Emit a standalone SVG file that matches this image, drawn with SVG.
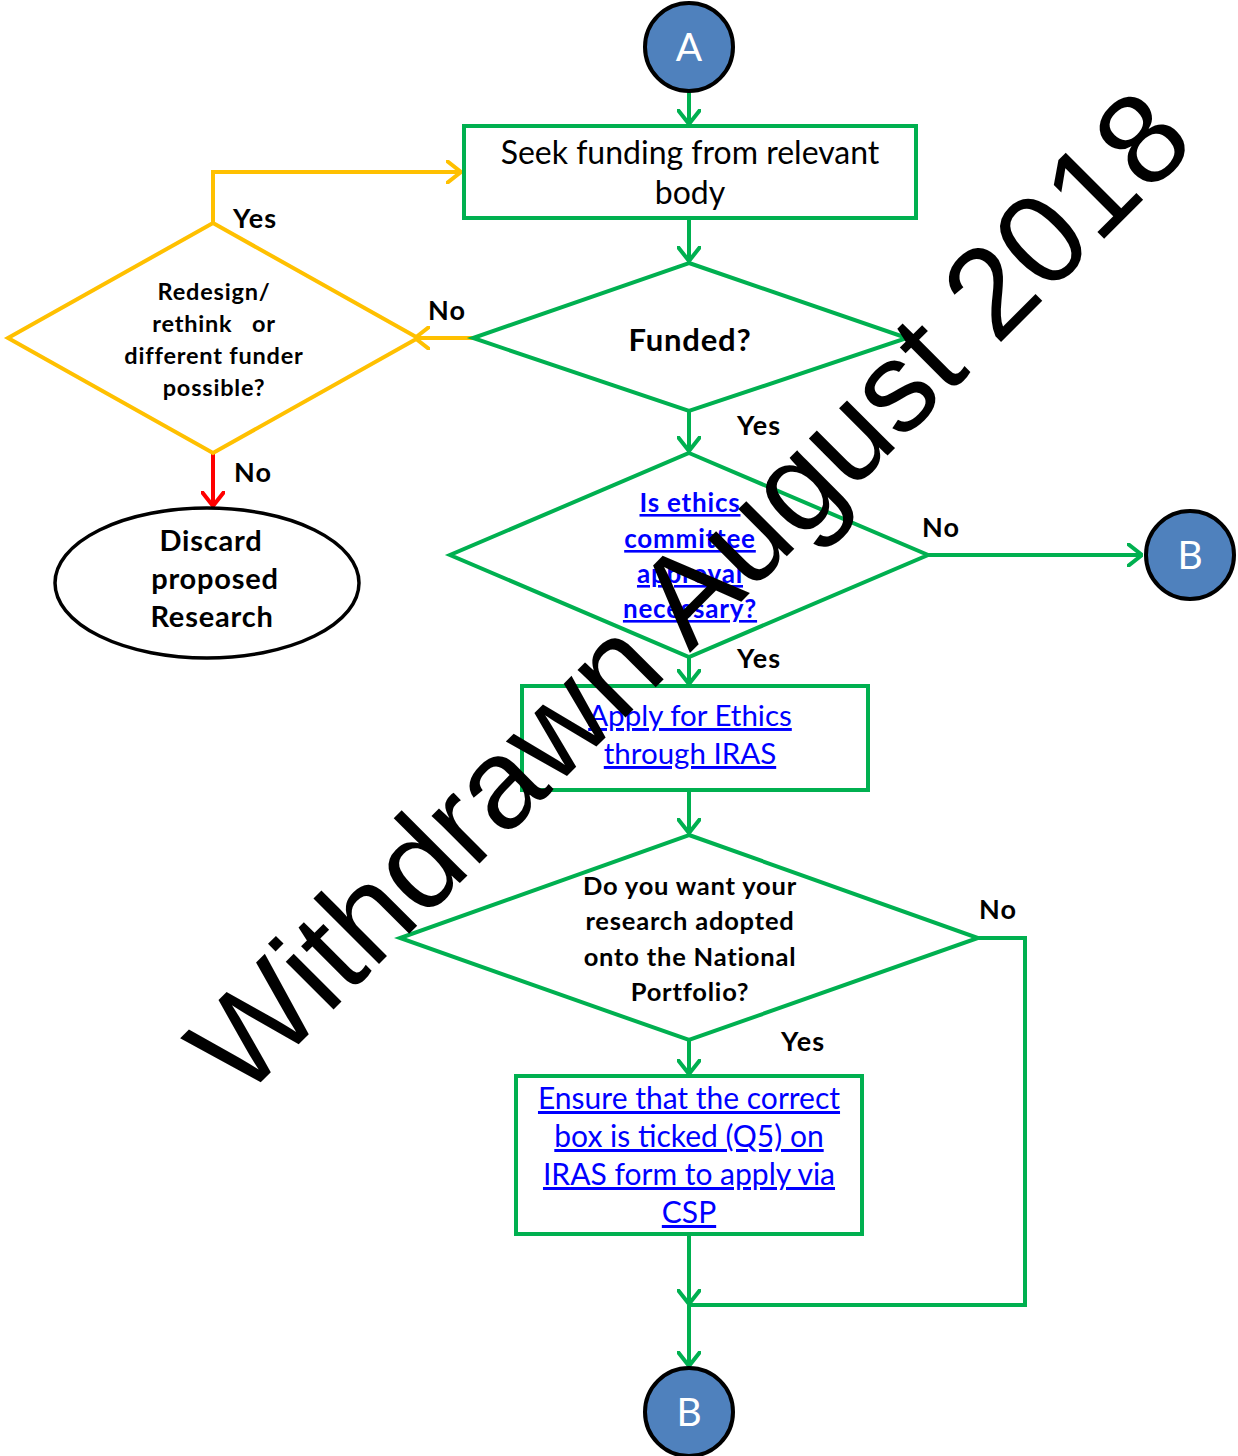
<svg xmlns="http://www.w3.org/2000/svg" width="1238" height="1456" viewBox="0 0 1238 1456">
<style>
.g{fill:none;stroke:#00B050;stroke-width:4}
.y{fill:none;stroke:#FFC000;stroke-width:4}
.r{fill:none;stroke:#FF0000;stroke-width:4}
.c{fill:#4F81BD;stroke:#000;stroke-width:4}
.ct{font-family:Lato,"Open Sans",sans-serif;font-size:39px;fill:#fff;text-anchor:middle}
.t{font-family:Lato,"Open Sans",sans-serif;fill:#000;text-anchor:middle}
.b{font-weight:bold;letter-spacing:0.8px}
.lk{fill:#0000FF;text-decoration:underline}
.lbl{font-family:Lato,"Open Sans",sans-serif;font-weight:bold;font-size:27px;letter-spacing:1.2px;fill:#000}
.wm{font-family:"Liberation Sans",Arial,sans-serif;font-size:128px;fill:#000}
</style>
<defs>
<marker id="ag" viewBox="0 0 16 24" markerWidth="16" markerHeight="24" refX="15" refY="12" orient="auto" markerUnits="userSpaceOnUse"><path d="M1,1 L15,12 L1,23" fill="none" stroke="#00B050" stroke-width="4" stroke-linecap="round"/></marker>
<marker id="ay" viewBox="0 0 16 24" markerWidth="16" markerHeight="24" refX="15" refY="12" orient="auto" markerUnits="userSpaceOnUse"><path d="M1,1 L15,12 L1,23" fill="none" stroke="#FFC000" stroke-width="4" stroke-linecap="round"/></marker>
<marker id="ar" viewBox="0 0 16 24" markerWidth="16" markerHeight="24" refX="15" refY="12" orient="auto" markerUnits="userSpaceOnUse"><path d="M1,1 L15,12 L1,23" fill="none" stroke="#FF0000" stroke-width="4" stroke-linecap="round"/></marker>
</defs>
<rect width="1238" height="1456" fill="#fff"/>

<g id="connectors">
<line class="g" x1="689" y1="91" x2="689" y2="124" marker-end="url(#ag)"/>
<line class="g" x1="689" y1="218" x2="689" y2="261" marker-end="url(#ag)"/>
<line class="y" x1="473" y1="338" x2="415" y2="338" marker-end="url(#ay)"/>
<polyline class="y" points="213,223 213,172 461,172" marker-end="url(#ay)"/>
<line class="r" x1="213" y1="453" x2="213" y2="506" marker-end="url(#ar)"/>
<line class="g" x1="689" y1="411" x2="689" y2="451" marker-end="url(#ag)"/>
<line class="g" x1="928" y1="555" x2="1142" y2="555" marker-end="url(#ag)"/>
<line class="g" x1="689" y1="657" x2="689" y2="684" marker-end="url(#ag)"/>
<line class="g" x1="689" y1="790" x2="689" y2="833" marker-end="url(#ag)"/>
<line class="g" x1="689" y1="1040" x2="689" y2="1074" marker-end="url(#ag)"/>
<polyline class="g" points="978,938 1025,938 1025,1305 689,1305"/>
<line class="g" x1="689" y1="1234" x2="689" y2="1304" marker-end="url(#ag)"/>
<line class="g" x1="689" y1="1305" x2="689" y2="1366" marker-end="url(#ag)"/>
<text class="lbl" x="233" y="228">Yes</text>
<text class="lbl" x="428" y="320">No</text>
<text class="lbl" x="234" y="482">No</text>
<text class="lbl" x="737" y="435">Yes</text>
<text class="lbl" x="922" y="537">No</text>
<text class="lbl" x="737" y="668">Yes</text>
<text class="lbl" x="979" y="919">No</text>
<text class="lbl" x="781" y="1051">Yes</text>
</g>

<g id="nodeA">
<circle class="c" cx="689" cy="47" r="44"/>
<text class="ct" x="689" y="61">A</text>
</g>

<g id="seekFunding">
<rect class="g" x="464" y="126" width="452" height="92"/>
<text class="t" x="690" y="164" font-size="32">Seek funding from relevant</text>
<text class="t" x="690" y="204" font-size="32">body</text>
</g>

<g id="funded">
<polygon class="g" points="689,263 907,338 689,411 473,338"/>
<text class="t b" x="690" y="351" font-size="31">Funded?</text>
</g>

<g id="redesign">
<polygon class="y" points="213,223 418,338 213,453 8,338"/>
<text class="t b" font-size="23.5"><tspan x="214" y="300">Redesign/</tspan><tspan x="214" y="332">rethink&#160;&#160; or</tspan><tspan x="214" y="364">different funder</tspan><tspan x="214" y="396">possible?</tspan></text>
</g>

<g id="discard">
<ellipse cx="207" cy="583" rx="152" ry="75" fill="#fff" stroke="#000" stroke-width="3.5"/>
<text class="t b" font-size="29"><tspan x="211" y="551">Discard</tspan><tspan x="215" y="589">proposed</tspan><tspan x="212" y="627">Research</tspan></text>
</g>

<g id="ethicsQ">
<polygon class="g" points="689,453 928,555 689,657 450,555"/>
<text class="t b lk" font-size="26"><tspan x="690" y="512">Is ethics</tspan><tspan x="690" y="548">committee</tspan><tspan x="690" y="583">approval</tspan><tspan x="690" y="618">necessary?</tspan></text>
</g>

<g id="nodeB1">
<circle class="c" cx="1190" cy="555" r="44"/>
<text class="ct" x="1190" y="569">B</text>
</g>

<g id="applyEthics">
<rect class="g" x="522" y="686" width="346" height="104"/>
<text class="t lk" font-size="29.5"><tspan x="690" y="726">Apply for Ethics</tspan><tspan x="690" y="764">through IRAS</tspan></text>
</g>

<g id="portfolioQ">
<polygon class="g" points="689,835 978,938 689,1040 400,938"/>
<text class="t b" font-size="25.5"><tspan x="690" y="895">Do you want your</tspan><tspan x="690" y="930">research adopted</tspan><tspan x="690" y="966">onto the National</tspan><tspan x="690" y="1001">Portfolio?</tspan></text>
</g>

<g id="ensureBox">
<rect class="g" x="516" y="1076" width="346" height="158"/>
<text class="t lk" font-size="30"><tspan x="689" y="1109">Ensure that the correct</tspan><tspan x="689" y="1147">box is ticked (Q5) on</tspan><tspan x="689" y="1185">IRAS form to apply via</tspan><tspan x="689" y="1223">CSP</tspan></text>
</g>

<g id="nodeB2">
<circle class="c" cx="689" cy="1412" r="44"/>
<text class="ct" x="689" y="1426">B</text>
</g>

<text class="wm" transform="translate(242,1101) rotate(-45)" x="0" y="0">Withdrawn August 2018</text>
</svg>
